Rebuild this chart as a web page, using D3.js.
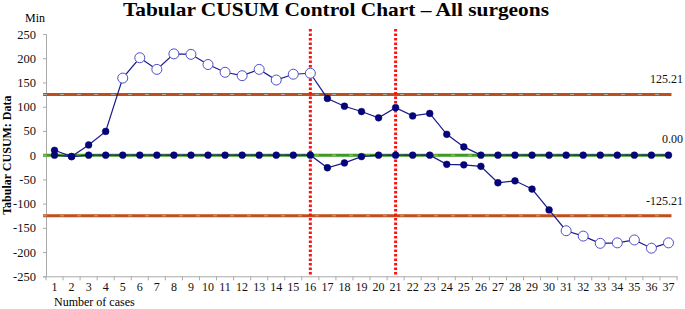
<!DOCTYPE html>
<html><head><meta charset="utf-8">
<script src="https://cdn.jsdelivr.net/npm/d3@7"></script>
<style>body{margin:0;background:#fff}svg{display:block}svg text{font-family:"Liberation Serif","Times New Roman",serif !important}</style>
</head><body>
<svg id="c" width="685" height="309"></svg>
<script>
const cases = d3.range(1, 38);
const upperCusum = [10, -3, 21, 49, 159, 201, 177, 209, 208, 187, 171, 164, 177, 155, 167, 169, 117, 101, 90, 77, 98, 81, 86, 43, 17, 0, 0, 0, 0, 0, 0, 0, 0, 0, 0, 0, 0];
const lowerCusum = [0, -3, 0, 0, 0, 0, 0, 0, 0, 0, 0, 0, 0, 0, 0, 0, -26, -16, -3, 0, 0, 0, 0, -19, -20, -23, -57, -53, -70, -113, -156, -167, -182, -181, -175, -192, -181];
const controlLimits = [125.21, 0, -125.21];
const limitLabels = ["125.21", "0.00", "-125.21"];
const shiftMarks = [16, 21];
const yTicks = d3.range(-250, 251, 50);

const serif = "Liberation Serif";
const svg = d3.select("#c");
const x = d3.scaleBand().domain(cases).range([46, 677]).padding(0);
const y = d3.scaleLinear().domain([-250, 250]).range([276.3, 34]);
const cx = d => x(d) + x.bandwidth() / 2;

// title
svg.append("text").attr("x", 336).attr("y", 16).attr("text-anchor", "middle")
  .attr("font-size", 19.5).attr("font-weight", "bold").attr("font-family", serif)
  .attr("textLength", 426).attr("lengthAdjust", "spacingAndGlyphs")
  .text("Tabular CUSUM Control Chart \u2013 All surgeons");
svg.append("text").attr("x", 25).attr("y", 22).attr("font-size", 12).attr("font-family", serif).text("Min");

// y axis
const ya = svg.append("g").attr("transform", "translate(46,0)")
  .call(d3.axisLeft(y).tickValues(yTicks).tickFormat(d => String(d)).tickSize(3).tickPadding(7));
ya.attr("font-family", serif);
ya.select(".domain").attr("stroke", "#aaa");
ya.selectAll(".tick line").attr("stroke", "#aaa");
ya.selectAll("text").attr("font-size", 12.5).attr("fill", "#111").attr("font-family", serif);

// x axis
const xa = svg.append("g").attr("transform", `translate(0,${y(-250)})`)
  .call(d3.axisBottom(x).tickSize(0).tickPadding(6));
xa.attr("font-family", serif);
xa.select(".domain").attr("stroke", "#aaa");
xa.selectAll("text").attr("font-size", 12).attr("fill", "#111").attr("font-family", serif);
xa.selectAll(".bd").data(cases.concat([38])).enter().append("line")
  .attr("x1", d => d <= 37 ? x(d) : x.range()[1]).attr("x2", d => d <= 37 ? x(d) : x.range()[1])
  .attr("y1", 0).attr("y2", 4).attr("stroke", "#aaa");

svg.append("text").attr("transform", `translate(11,${y(0)}) rotate(-90)`).attr("text-anchor", "middle")
  .attr("font-size", 12).attr("font-weight", "bold").attr("font-family", serif).text("Tabular CUSUM: Data");
svg.append("text").attr("x", 54).attr("y", 306).attr("font-size", 12).attr("font-family", serif).text("Number of cases");

// limit lines
const lx1 = x.range()[0] - 3, lx2 = cx(37) + 3;
controlLimits.forEach((v, i) => {
  const isC = v === 0;
  svg.append("line").attr("x1", lx1).attr("x2", lx2).attr("y1", y(v)).attr("y2", y(v))
    .attr("stroke", isC ? "#3b9a25" : "#c04e1c").attr("stroke-width", 3);
  svg.append("line").attr("x1", lx1).attr("x2", lx2).attr("y1", y(v)).attr("y2", y(v))
    .attr("stroke", isC ? "#c8c040" : "#b8a8a0").attr("stroke-width", 1).attr("stroke-dasharray", "4,13");
  svg.append("text").attr("x", 683).attr("y", y(v) - (isC ? 12 : 11)).attr("text-anchor", "end")
    .attr("font-size", 12).attr("fill", "#111").attr("font-family", serif).text(limitLabels[i]);
});

// shift marks
shiftMarks.forEach(c => {
  svg.append("line").attr("x1", cx(c)).attr("x2", cx(c)).attr("y1", 29).attr("y2", y(-250))
    .attr("stroke", "#ff1010").attr("stroke-width", 3).attr("stroke-dasharray", "2.5,2");
});

const ucl = controlLimits[0], lcl = controlLimits[2];
const line = d3.line().x((d, i) => cx(cases[i])).y(d => y(d));
[lowerCusum, upperCusum].forEach(series => {
  svg.append("path").attr("d", line(series)).attr("fill", "none").attr("stroke", "#1a1a8a").attr("stroke-width", 1.2);
  const pts = series.map((v, i) => ({c: cases[i], v}));
  svg.selectAll(null).data(pts).enter().append("circle")
    .attr("cx", d => cx(d.c)).attr("cy", d => y(d.v))
    .attr("r", d => (d.v > ucl || d.v < lcl) ? 5 : 3.4)
    .attr("fill", d => (d.v > ucl || d.v < lcl) ? "#fff" : "#05057a")
    .attr("stroke", d => (d.v > ucl || d.v < lcl) ? "#4f4fc8" : "#05057a")
    .attr("stroke-width", d => (d.v > ucl || d.v < lcl) ? 1 : 0.5);
});
</script>
</body></html>
